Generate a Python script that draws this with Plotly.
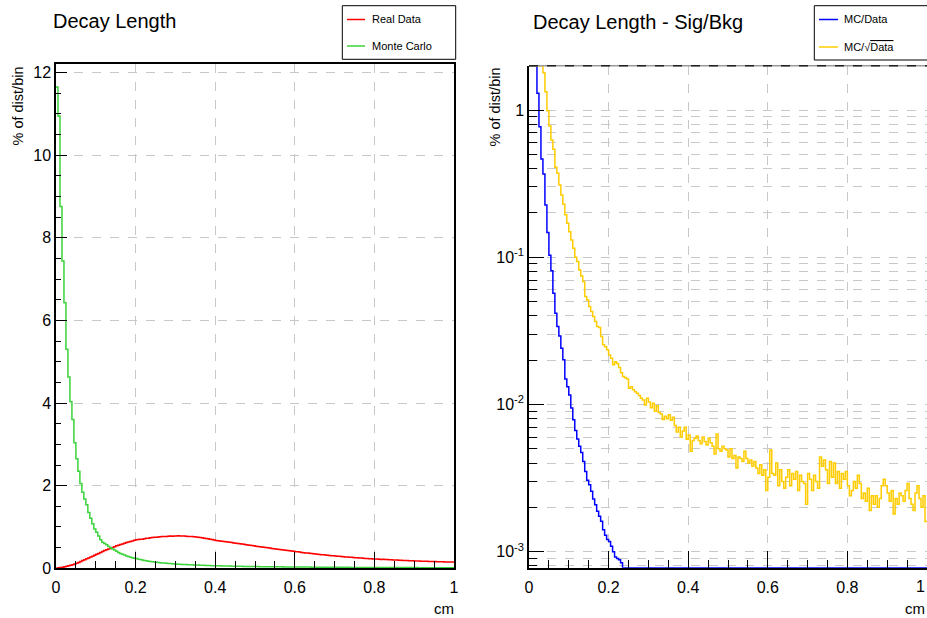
import numpy as np
import plotly.graph_objects as go

# ---------------- data ----------------
BIN_WIDTH = 0.005  # cm, 200 bins over 0..1 cm

real_data = [
    0.004, 0.011, 0.019, 0.028, 0.040, 0.052, 0.062, 0.074, 0.088, 0.103,
    0.120, 0.141, 0.163, 0.186, 0.207, 0.229, 0.252, 0.272, 0.294, 0.318,
    0.340, 0.360, 0.384, 0.405, 0.428, 0.448, 0.466, 0.485, 0.505, 0.524,
    0.545, 0.560, 0.576, 0.590, 0.606, 0.622, 0.636, 0.648, 0.662, 0.676,
    0.690, 0.697, 0.705, 0.703, 0.718, 0.726, 0.730, 0.737, 0.745, 0.750,
    0.754, 0.760, 0.765, 0.768, 0.772, 0.770, 0.776, 0.780, 0.778, 0.783,
    0.781, 0.785, 0.780, 0.779, 0.782, 0.775, 0.772, 0.768, 0.770, 0.762,
    0.758, 0.752, 0.745, 0.738, 0.730, 0.722, 0.713, 0.705, 0.697, 0.688,
    0.675, 0.668, 0.662, 0.655, 0.650, 0.642, 0.635, 0.630, 0.622, 0.615,
    0.608, 0.600, 0.595, 0.588, 0.580, 0.573, 0.566, 0.558, 0.550, 0.544,
    0.535, 0.530, 0.522, 0.515, 0.510, 0.502, 0.495, 0.490, 0.482, 0.476,
    0.468, 0.463, 0.456, 0.450, 0.442, 0.437, 0.430, 0.424, 0.416, 0.410,
    0.402, 0.398, 0.392, 0.385, 0.378, 0.372, 0.368, 0.362, 0.356, 0.350,
    0.345, 0.340, 0.336, 0.330, 0.325, 0.320, 0.316, 0.312, 0.306, 0.302,
    0.298, 0.294, 0.290, 0.285, 0.280, 0.276, 0.272, 0.268, 0.265, 0.261,
    0.257, 0.254, 0.250, 0.247, 0.243, 0.240, 0.238, 0.234, 0.231, 0.228,
    0.226, 0.224, 0.220, 0.212, 0.218, 0.214, 0.211, 0.208, 0.205, 0.203,
    0.200, 0.198, 0.196, 0.193, 0.190, 0.188, 0.186, 0.184, 0.182, 0.180,
    0.178, 0.176, 0.175, 0.173, 0.171, 0.170, 0.168, 0.166, 0.165, 0.163,
    0.162, 0.160, 0.159, 0.157, 0.156, 0.155, 0.153, 0.152, 0.151, 0.150,
]

monte_carlo = [
    11.65, 10.95, 8.76, 7.44, 6.43, 5.30, 4.63, 4.03, 3.60, 3.04,
    2.65, 2.35, 2.05, 1.84, 1.68, 1.54, 1.35, 1.21, 1.08, 0.95,
    0.87, 0.78, 0.69, 0.63, 0.60, 0.57, 0.53, 0.50, 0.47, 0.44,
    0.41, 0.38, 0.36, 0.34, 0.32, 0.30, 0.285, 0.27, 0.255, 0.245,
    0.235, 0.222, 0.210, 0.200, 0.190, 0.180, 0.172, 0.165, 0.158, 0.150,
    0.145, 0.140, 0.135, 0.130, 0.126, 0.122, 0.118, 0.114, 0.110, 0.107,
    0.104, 0.101, 0.098, 0.095, 0.092, 0.090, 0.088, 0.085, 0.083, 0.081,
    0.079, 0.077, 0.075, 0.073, 0.071, 0.069, 0.068, 0.066, 0.064, 0.063,
    0.062, 0.060, 0.059, 0.058, 0.057, 0.055, 0.054, 0.053, 0.052, 0.051,
    0.050, 0.049, 0.048, 0.047, 0.046, 0.045, 0.044, 0.043, 0.043, 0.042,
    0.041, 0.041, 0.040, 0.040, 0.039, 0.039, 0.038, 0.038, 0.037, 0.037,
    0.036, 0.036, 0.035, 0.035, 0.034, 0.034, 0.033, 0.033, 0.032, 0.032,
    0.031, 0.031, 0.031, 0.030, 0.030, 0.029, 0.029, 0.029, 0.028, 0.028,
    0.028, 0.027, 0.027, 0.027, 0.026, 0.026, 0.026, 0.025, 0.025, 0.025,
    0.024, 0.024, 0.024, 0.024, 0.023, 0.023, 0.023, 0.023, 0.022, 0.022,
    0.022, 0.022, 0.021, 0.021, 0.021, 0.021, 0.021, 0.020, 0.020, 0.020,
    0.020, 0.020, 0.019, 0.019, 0.019, 0.019, 0.019, 0.019, 0.018, 0.018,
    0.018, 0.018, 0.018, 0.018, 0.018, 0.017, 0.017, 0.017, 0.017, 0.017,
    0.017, 0.017, 0.016, 0.016, 0.016, 0.016, 0.016, 0.016, 0.016, 0.016,
    0.015, 0.015, 0.015, 0.015, 0.015, 0.015, 0.015, 0.015, 0.014, 0.014,
]

mc_over_data = [
    4.0, 3.2, 2.6, 2.2,
    1.30, 0.77, 0.465, 0.368, 0.226, 0.147, 0.103, 0.081, 0.057, 0.0417,
    0.0338, 0.0292, 0.0241,
    0.0201, 0.0149, 0.0132, 0.0116, 0.00945, 0.00787, 0.00666, 0.00582,
    0.00519, 0.00472, 0.0041, 0.00351, 0.00305, 0.00285, 0.00257, 0.00228,
    0.00208, 0.00188, 0.00174, 0.00161, 0.00141, 0.00129, 0.00121, 0.00117,
    0.00109, 0.00100, 0.00092, 0.00090, 0.00088, 0.00084,
] + [0.0] * 153  # bins 47..199 read as empty (drawn on the axis floor)

mc_over_sqrt_data = [
    3.6, 3.1, 2.8, 2.6, 2.4, 2.25, 2.1,
    1.79, 1.33, 0.99, 0.78, 0.625, 0.541, 0.408, 0.372, 0.31, 0.265,
    0.229, 0.194, 0.170, 0.149, 0.131, 0.115, 0.100, 0.0934, 0.082, 0.0747,
    0.0683, 0.054, 0.0513, 0.0462, 0.0428, 0.0395, 0.0366, 0.0338, 0.0333,
    0.0289, 0.0254, 0.0247, 0.0235, 0.0217, 0.0206,
    0.0186, 0.0195, 0.0190, 0.0178, 0.0164, 0.0155, 0.0152, 0.0149, 0.0129,
    0.0132, 0.0126, 0.0122, 0.0119, 0.0115, 0.0110, 0.0107, 0.0099, 0.0110,
    0.0104,
    0.0095, 0.0102, 0.0090, 0.0098, 0.0088,
    0.0086, 0.0079,
    0.0083, 0.0080, 0.0085, 0.0078, 0.0082,
    0.0072, 0.0065, 0.0070, 0.0060, 0.0066,
    0.0070, 0.0058, 0.0062, 0.0048, 0.0057,
    0.0059, 0.0061, 0.0057, 0.0054, 0.0060,
    0.0056, 0.0053, 0.0059, 0.0055, 0.0052,
    0.0046, 0.0063, 0.0050, 0.0048, 0.0052,
    0.0050, 0.0049, 0.0044, 0.0050, 0.0043,
    0.0045, 0.0037, 0.0044, 0.0043, 0.0041,
    0.0048, 0.0043, 0.0040, 0.0042, 0.0038,
    0.0041, 0.0037, 0.0034, 0.0039, 0.0033,
    0.0036, 0.0026, 0.0032, 0.0049, 0.0034,
    0.0033, 0.0040, 0.0028, 0.0036, 0.0030,
    0.0027, 0.0032, 0.0036, 0.0028, 0.0034,
    0.0031, 0.0035, 0.0026, 0.0033, 0.0030,
    0.0029, 0.0021, 0.0034, 0.0031, 0.0026,
    0.0033, 0.0030, 0.0027, 0.0044, 0.0038,
    0.0042, 0.0036, 0.0029, 0.0041, 0.0032,
    0.0040, 0.0029, 0.0035, 0.0027, 0.0034,
    0.0031, 0.0035, 0.0028, 0.0024, 0.0026,
    0.0030, 0.0027, 0.0033, 0.0029, 0.0023,
    0.0025, 0.0022, 0.0027, 0.0019, 0.0024,
    0.0021, 0.0024, 0.0020, 0.0023, 0.0028,
    0.0031, 0.0028, 0.0025, 0.0022, 0.0026,
    0.0018, 0.0023, 0.0021, 0.0025, 0.0024,
    0.0022, 0.0026, 0.0029, 0.0023, 0.0021,
    0.0019, 0.0025, 0.0028, 0.0023, 0.0020, 0.0024, 0.0016,
]

X_TICKS = [0, 0.2, 0.4, 0.6, 0.8, 1]
LEFT_Y_TICKS = [0, 2, 4, 6, 8, 10, 12]
LOG_TICKS = [1e-3, 1e-2, 1e-1, 1]
LOG_TICK_TEXT = ["10<sup>-3</sup>", "10<sup>-2</sup>", "10<sup>-1</sup>", "1"]
LOG_MINOR = [m * 10.0 ** e for e in (-4, -3, -2, -1, 0) for m in range(2, 10)]

LEFT_Y_RANGE = [0, 12.2]
LOG_RANGE = [7.78e-4, 2.0]

# ---------------- style ----------------
W, H = 927, 618
FONT = "Liberation Sans, Arial, Helvetica, sans-serif"
RED, GREEN, BLUE, GOLD = "#ff0000", "#3cd33c", "#0000ff", "#ffcc00"
GRID = "#c8c8c8"
LW = 1.5


def fx(p):
    return p / W


def fy(p):
    return 1 - p / H


def step(values):
    v = list(values)
    edges = np.arange(len(v) + 1) * BIN_WIDTH
    return edges, v + [v[-1]]


def clamp_log(values, lo, hi):
    # ROOT draws empty bins on the floor and overflow on the top edge
    return [min(max(x, lo), hi) for x in values]


fig = go.Figure()

for vals, col, name in [(real_data, RED, "Real Data"), (monte_carlo, GREEN, "Monte Carlo")]:
    x, y = step(vals)
    fig.add_trace(go.Scatter(x=x, y=y, mode="lines", line=dict(color=col, width=LW, shape="hv"),
                             name=name, xaxis="x", yaxis="y", showlegend=False))

for vals, col, name in [(mc_over_data, BLUE, "MC/Data"), (mc_over_sqrt_data, GOLD, "MC/sqrt(Data)")]:
    x, y = step(clamp_log(vals, LOG_RANGE[0], LOG_RANGE[1]))
    fig.add_trace(go.Scatter(x=x, y=y, mode="lines", line=dict(color=col, width=LW, shape="hv"),
                             name=name, xaxis="x2", yaxis="y2", showlegend=False))

common_x = dict(
    range=[0, 1], tickvals=X_TICKS, ticks="inside", ticklen=17, tickwidth=1, tickcolor="black",
    minor=dict(ticks="inside", ticklen=8, dtick=0.05, tick0=0, tickcolor="black", showgrid=False),
    showgrid=True, gridcolor=GRID, griddash="dash", gridwidth=1,
    showline=True, linecolor="black", linewidth=1.5, zeroline=False,
    tickfont=dict(family=FONT, size=16, color="black"), ticklabelstandoff=4, automargin=False,
)

fig.update_layout(
    width=W, height=H, margin=dict(l=0, r=0, t=0, b=0, autoexpand=False),
    paper_bgcolor="white", plot_bgcolor="white", showlegend=False,
    xaxis=dict(domain=[fx(56), fx(454)], anchor="y", mirror=True, **common_x),
    yaxis=dict(
        domain=[fy(568.3), fy(64.3)], anchor="x", range=LEFT_Y_RANGE, tickvals=LEFT_Y_TICKS,
        ticks="inside", ticklen=11, tickwidth=1, tickcolor="black",
        minor=dict(ticks="inside", ticklen=5, dtick=0.5, tick0=0, tickcolor="black", showgrid=False),
        showgrid=True, gridcolor=GRID, griddash="dash", gridwidth=1,
        showline=True, linecolor="black", linewidth=1.5, mirror=True, zeroline=False,
        tickfont=dict(family=FONT, size=16, color="black"), ticklabelstandoff=0, automargin=False,
    ),
    xaxis2=dict(domain=[fx(529), fx(927)], anchor="y2", mirror=False, **common_x),
    yaxis2=dict(
        domain=[fy(567.7), fy(65.7)], anchor="x2", type="log",
        range=[np.log10(LOG_RANGE[0]), np.log10(LOG_RANGE[1])],
        tickvals=LOG_TICKS, ticktext=LOG_TICK_TEXT,
        ticks="inside", ticklen=15, tickwidth=1, tickcolor="black",
        minor=dict(tickvals=LOG_MINOR, ticks="inside", ticklen=8, tickcolor="black",
                   showgrid=True, gridcolor=GRID, griddash="dash", gridwidth=1),
        showgrid=True, gridcolor=GRID, griddash="dash", gridwidth=1,
        showline=True, linecolor="black", linewidth=1.5, mirror=False, zeroline=False,
        tickfont=dict(family=FONT, size=16, color="black"), ticklabelstandoff=0, automargin=False,
    ),
)

ann = []
shapes = []

# top frame edge of the right pad: grey line overdrawn with dark dashes
shapes.append(dict(type="line", xref="paper", yref="paper", x0=fx(529), x1=1, y0=fy(65.7), y1=fy(65.7),
                   line=dict(color="#999999", width=1.5), layer="above"))
shapes.append(dict(type="line", xref="paper", yref="paper", x0=fx(529), x1=1, y0=fy(65.7), y1=fy(65.7),
                   line=dict(color="#222222", width=1.5, dash="dash"), layer="above"))

# titles
ann.append(dict(text="Decay Length", x=fx(51), y=fy(21.5), xanchor="left", yanchor="middle",
                font=dict(family=FONT, size=20, color="black")))
ann.append(dict(text="Decay Length - Sig/Bkg", x=fx(531), y=fy(22.5), xanchor="left", yanchor="middle",
                font=dict(family=FONT, size=20, color="black")))

# axis titles
for xc in (17, 494):
    ann.append(dict(text="% of dist/bin", x=fx(xc), y=fy(65), xanchor="center", yanchor="top",
                    textangle=-90, font=dict(family=FONT, size=14.5, color="black")))
for xr in (456, 927):
    ann.append(dict(text="cm", x=fx(xr), y=fy(608), xanchor="right", yanchor="middle",
                    font=dict(family=FONT, size=15, color="black")))

# the last x label of the right pad sits on the window edge
ann.append(dict(text=str(X_TICKS[-1]), x=fx(926.5), y=fy(586), xanchor="right", yanchor="middle",
                font=dict(family=FONT, size=16, color="black")))

# legends
legends = [
    (342.3, 455.7, 5.7, 59.3, 347, 365, 370, [("Real Data", RED, 19.5), ("Monte Carlo", GREEN, 46)]),
    (814.3, 940, 5.7, 60, 819, 838, 842,
     [("MC/Data", BLUE, 19.5),
      ("MC/√<span style='text-decoration:overline'>Data</span>", GOLD, 47)]),
]
for x0, x1, y0, y1, lx0, lx1, tx, items in legends:
    shapes.append(dict(type="rect", xref="paper", yref="paper", x0=fx(x0), x1=fx(x1), y0=fy(y1), y1=fy(y0),
                       line=dict(color="black", width=1), fillcolor="white", layer="above"))
    for label, col, yy in items:
        shapes.append(dict(type="line", xref="paper", yref="paper", x0=fx(lx0), x1=fx(lx1), y0=fy(yy), y1=fy(yy),
                           line=dict(color=col, width=LW)))
        ann.append(dict(text=label, x=fx(tx), y=fy(yy), xanchor="left", yanchor="middle",
                        font=dict(family=FONT, size=11, color="black")))

for a in ann:
    a.update(xref="paper", yref="paper", showarrow=False)
fig.update_layout(annotations=ann, shapes=shapes)

fig.write_html("out.html")
